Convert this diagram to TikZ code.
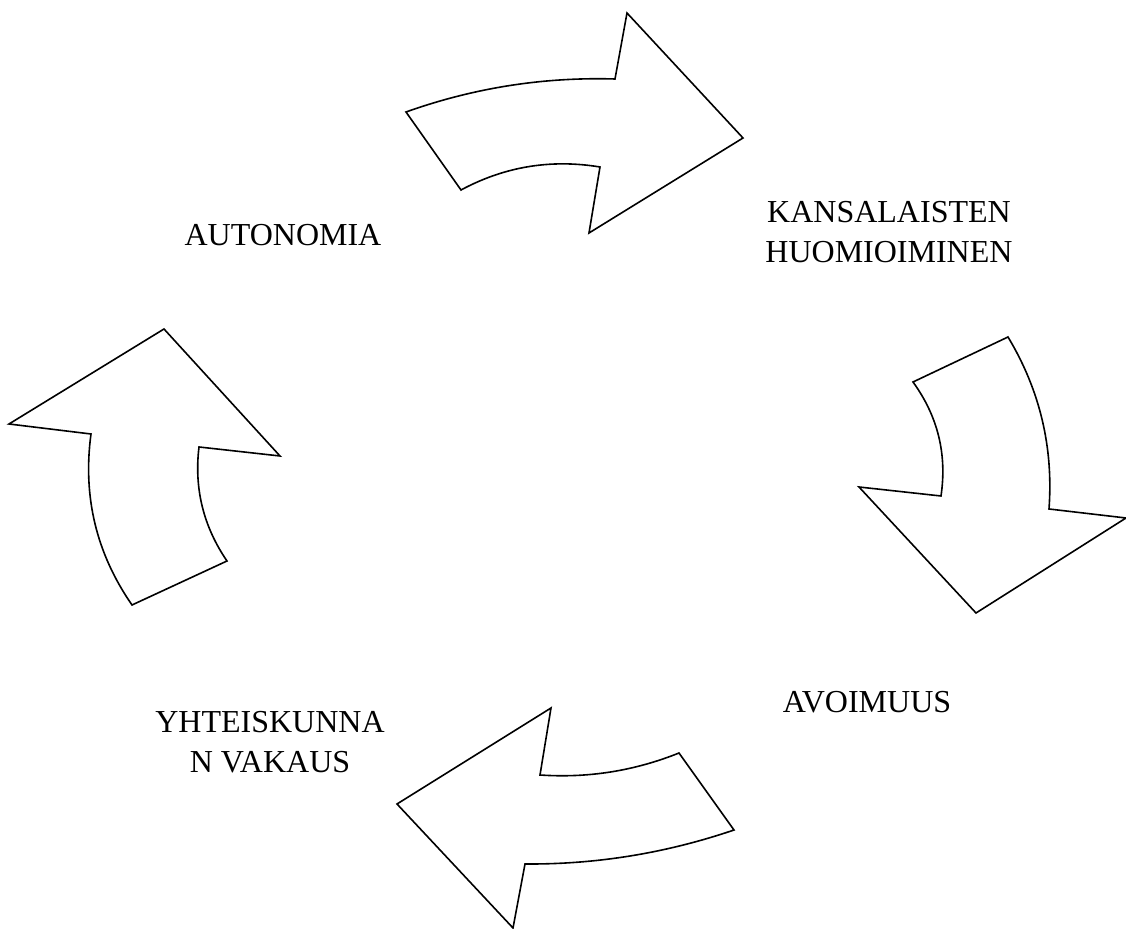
\documentclass[tikz,border=0pt]{standalone}
\usepackage{fontspec}
\setmainfont{Liberation Serif}
\usepackage{tikz}

\begin{document}
\begin{tikzpicture}[x=0.5pt, y=-0.5pt]
			\tikzstyle{bigarrow} = [draw, thick, fill=white, line join=miter]
			\tikzstyle{label} = [inner sep=0pt, anchor=north, align=center, font=\fontsize{16}{20}\selectfont]
			\useasboundingbox (0,0) rectangle (1126,929);

			% labels
			\node[label] (autonomia) at (283,224) {AUTONOMIA};
			\node[label] (kansalaiset) at (889,201) {KANSALAISTEN\\HUOMIOIMINEN};
			\node[label] (avoimuus) at (867,691) {AVOIMUUS};
			\node[label] (vakaus) at (270,711) {YHTEISKUNNA\\N VAKAUS};

			% top arrow, pointing right
			\draw[bigarrow] (406,112) .. controls (473.6,87.9) and (543.2,76.9) .. (615,79)
				-- (627,13) -- (743,138) -- (589,233) -- (600,167)
				.. controls (551.1,158.9) and (504.7,166.5) .. (461,190) -- cycle;

			% right arrow, pointing down
			\draw[bigarrow] (1008,337) .. controls (1039.9,390) and (1053.5,447.4) .. (1049,509)
				-- (1126,518) -- (976,613) -- (859,487) -- (941,496)
				.. controls (947.2,454.2) and (937.8,416.2) .. (913,382) -- cycle;

			% bottom arrow, pointing left
			\draw[bigarrow] (734,830) .. controls (666.2,853.1) and (596.6,864.5) .. (525,864)
				-- (513,928) -- (397,804) -- (551,708) -- (540,775)
				.. controls (588,778.3) and (634.4,770.9) .. (679,753) -- cycle;

			% left arrow, pointing up
			\draw[bigarrow] (132,605) .. controls (96.2,553.3) and (82.6,496.3) .. (91,434)
				-- (9,424) -- (164,329) -- (280,456) -- (199,447)
				.. controls (194,488.5) and (203.4,526.5) .. (227,561) -- cycle;
\end{tikzpicture}
\end{document}
